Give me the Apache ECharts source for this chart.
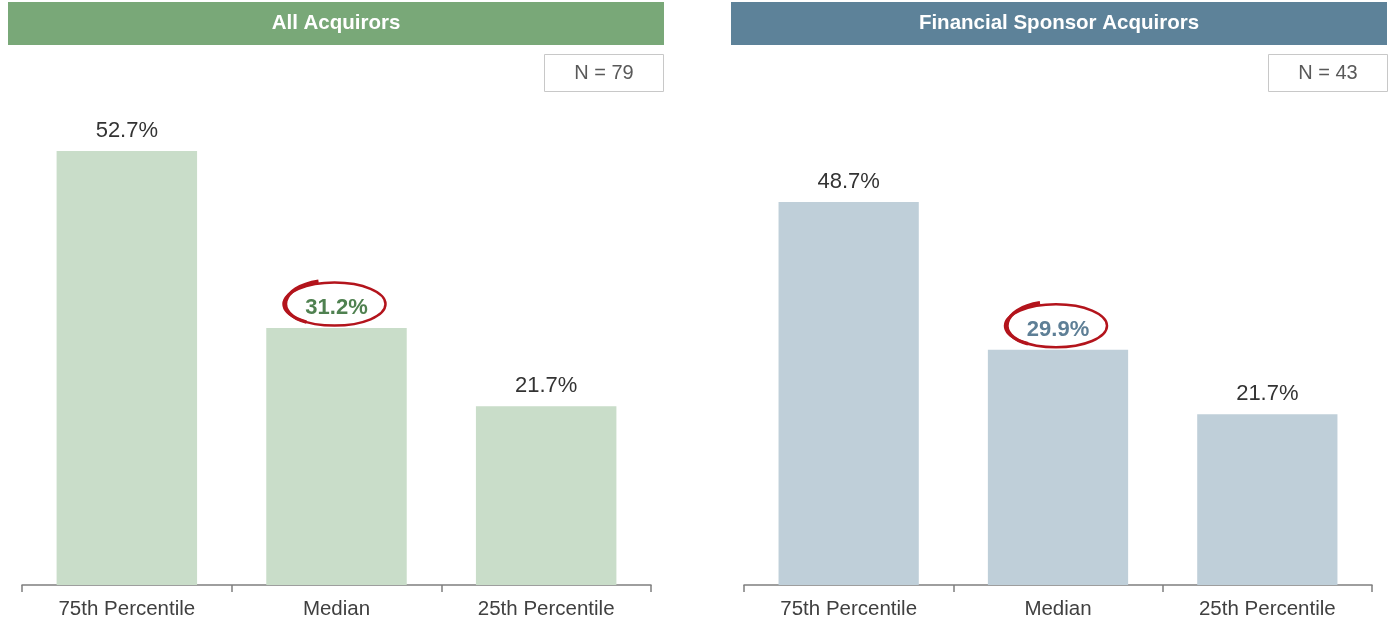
<!DOCTYPE html>
<html><head><meta charset="utf-8">
<script src="https://cdn.jsdelivr.net/npm/echarts@6/dist/echarts.min.js"></script>
<style>html,body{margin:0;padding:0;background:#fff}#c{width:1393px;height:625px}</style>
</head><body><div id="c"></div>
<script>
const categories = ['75th Percentile', 'Median', '25th Percentile'];
const allAcquirors = [52.7, 31.2, 21.7];
const sponsorAcquirors = [48.7, 29.9, 21.7];
const panelTitles = ['All Acquirors', 'Financial Sponsor Acquirors'];
const sampleSizes = ['N = 79', 'N = 43'];
const highlightIndex = 1;

const FONT = 'Liberation Sans, Arial, sans-serif';
const headColors = ['#79a878', '#5d8299'];
const barColors = ['#c9ddc9', '#bfcfd9'];
const hiColors = ['#4f8150', '#5e7f96'];

function buildData(vals, p) {
  return vals.map((v, i) => i === highlightIndex
    ? { value: v, label: { fontWeight: 'bold', color: hiColors[p] } }
    : v);
}

const chart = echarts.init(document.getElementById('c'), null, { renderer: 'canvas' });

const grids = [
  { left: 22, width: 629, top: 91, bottom: 40 },
  { left: 744, width: 628, top: 113, bottom: 40 }
];

const option = {
  animation: false,
  textStyle: { fontFamily: FONT },
  grid: grids,
  xAxis: [0, 1].map(i => ({
    type: 'category', gridIndex: i, data: categories,
    axisLine: { lineStyle: { color: '#7f7f7f', width: 1.5 } },
    axisTick: { show: true, length: 7, lineStyle: { color: '#7f7f7f', width: 1.5 } },
    axisLabel: { fontSize: 20.5, color: '#404040', margin: 14, fontFamily: FONT }
  })),
  yAxis: [0, 1].map(i => ({
    type: 'value', gridIndex: i, min: 0, max: 60, show: false, splitLine: { show: false }
  })),
  series: [allAcquirors, sponsorAcquirors].map((vals, p) => ({
    type: 'bar', xAxisIndex: p, yAxisIndex: p,
    data: buildData(vals, p),
    barWidth: '67%',
    itemStyle: { color: barColors[p] },
    label: {
      show: true, position: 'top', distance: 9,
      fontSize: 22, color: '#333', fontFamily: FONT,
      formatter: d => d.value.toFixed(1) + '%'
    }
  }))
};
chart.setOption(option);

function drawGraphics() {
  const g = [];
  const heads = [[8, 656], [731, 656]];
  const nbox = [544, 1268];
  [0, 1].forEach(p => {
    g.push({ type: 'rect', shape: { x: heads[p][0], y: 2, width: heads[p][1], height: 43 },
      style: { fill: headColors[p] } });
    g.push({ type: 'text', x: heads[p][0] + heads[p][1] / 2, y: 23.5,
      style: { text: panelTitles[p], fill: '#fff', font: 'bold 20.5px ' + FONT, align: 'center', verticalAlign: 'middle' } });
    g.push({ type: 'rect', shape: { x: nbox[p] + 0.5, y: 54.5, width: 119, height: 37 },
      style: { fill: '#fff', stroke: '#c8c8c8', lineWidth: 1 } });
    g.push({ type: 'text', x: nbox[p] + 60, y: 73,
      style: { text: sampleSizes[p], fill: '#595959', font: '20px ' + FONT, align: 'center', verticalAlign: 'middle' } });
    const vals = p === 0 ? allAcquirors : sponsorAcquirors;
    const pt = chart.convertToPixel({ xAxisIndex: p, yAxisIndex: p }, [highlightIndex, vals[highlightIndex]]);
    const cx = pt[0] - 2, cy = pt[1] - 24;
    g.push({ type: 'ellipse', shape: { cx: cx, cy: cy, rx: 51, ry: 21.5 },
      style: { fill: 'none', stroke: '#b3141c', lineWidth: 2.5 } });
    g.push({ type: 'bezierCurve', shape: {
        x1: cx - 16, y1: cy - 23,
        cpx1: cx - 55, cpy1: cy - 17,
        cpx2: cx - 60, cpy2: cy + 10,
        x2: cx - 28, y2: cy + 18
      },
      style: { fill: 'none', stroke: '#b3141c', lineWidth: 3.5 } });
  });
  chart.setOption({ graphic: g });
}
drawGraphics();
</script></body></html>
